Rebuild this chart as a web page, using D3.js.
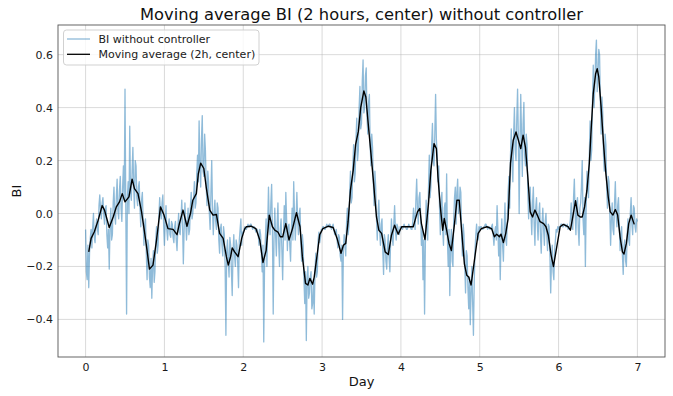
<!DOCTYPE html>
<html>
<head>
<meta charset="utf-8">
<title>Moving average BI (2 hours, center) without controller</title>
<script src="https://d3js.org/d3.v7.min.js"></script>
<style>
  body{ margin:0; background:#fff; font-family:'DejaVu Sans', sans-serif; }
</style>
</head>
<body>
<svg></svg>
<script>
// raw BI, one sample every rawStep days starting at day 0 (one row = 0.1 day)
var rawStep = 0.01;
var rawBI = [
  // day 0
  -0.06,-0.22,-0.25,-0.12,-0.28,-0.15,-0.09,-0.06,-0.13,-0.05,
   0.00,-0.09,-0.11,-0.05,-0.02,-0.06,-0.08, 0.03, 0.07, 0.01,
  -0.02, 0.04, 0.06, 0.00,-0.04, 0.02, 0.03,-0.08,-0.13,-0.06,
  -0.21,-0.05, 0.02,-0.10,-0.08, 0.04, 0.10,-0.01,-0.04, 0.06,
   0.13, 0.01,-0.02, 0.09, 0.14, 0.02,-0.03, 0.10, 0.18, 0.05,
   0.47, 0.02,-0.38, 0.06, 0.12, 0.00, 0.33, 0.08, 0.05, 0.16,
   0.25, 0.10, 0.02, 0.20, 0.18, 0.06, 0.03, 0.10, 0.12, 0.02,
  -0.05, 0.05, 0.08,-0.03,-0.12,-0.04,-0.02,-0.15,-0.25,-0.10,
  -0.12,-0.24,-0.28,-0.17,-0.32,-0.20,-0.14,-0.26,-0.22,-0.10,
  -0.05,-0.15,-0.12,-0.01, 0.06, 0.00,-0.02, 0.04, 0.07,-0.04,
  // day 1
  -0.12,-0.04, 0.03,-0.06,-0.10,-0.05,-0.02,-0.08,-0.09,-0.03,
  -0.04,-0.09,-0.11,-0.05,-0.03,-0.10,-0.14,-0.06, 0.00,-0.07,
  -0.08,-0.02, 0.05,-0.04,-0.19,-0.06, 0.04,-0.03,-0.10,-0.04,
   0.02,-0.08,-0.06, 0.03, 0.08,-0.02, 0.00, 0.06, 0.12, 0.02,
   0.04, 0.15, 0.22, 0.12, 0.35, 0.18, 0.10, 0.28, 0.37, 0.16,
   0.14, 0.30, 0.24, 0.10, 0.03, 0.16, 0.12, 0.00,-0.06, 0.08,
   0.20, 0.02,-0.08, 0.00, 0.05,-0.03,-0.06, 0.04, 0.02,-0.10,
  -0.15,-0.06,-0.04,-0.12,-0.16,-0.05,-0.08,-0.20,-0.46,-0.14,
  -0.10,-0.18,-0.24,-0.09,-0.12,-0.22,-0.31,-0.15,-0.08,-0.16,
  -0.20,-0.10,-0.12,-0.19,-0.28,-0.10,-0.06,-0.02,-0.12,-0.07,
  // day 2
  -0.07,-0.06,-0.05,-0.06,-0.06,-0.05,-0.04,-0.05,-0.05,-0.04,
  -0.04,-0.05,-0.06,-0.05,-0.05,-0.06,-0.07,-0.06,-0.06,-0.08,
  -0.12,-0.06,-0.08,-0.15,-0.22,-0.12,-0.485,-0.20,-0.10,-0.02,
  -0.20,-0.05, 0.10,-0.03,-0.08, 0.04, 0.11,-0.06,-0.38,-0.10,
   0.02,-0.08,-0.16,-0.04, 0.04,-0.12,-0.20,-0.06,-0.02,-0.14,
  -0.25,-0.08, 0.03,-0.10, 0.08,-0.02,-0.14,-0.05,-0.04,-0.12,
  -0.18,-0.06, 0.02,-0.10, 0.12, 0.00,-0.10,-0.03, 0.08,-0.02,
  -0.08, 0.00, 0.02,-0.10,-0.18,-0.08,-0.12,-0.25,-0.34,-0.22,
  -0.48,-0.25,-0.20,-0.32,-0.30,-0.24,-0.22,-0.36,-0.34,-0.25,
  -0.38,-0.22,-0.15,-0.24,-0.22,-0.10,-0.07,-0.11,-0.09,-0.06,
  // day 3
  -0.06,-0.05,-0.05,-0.06,-0.06,-0.05,-0.04,-0.05,-0.05,-0.04,
  -0.04,-0.05,-0.06,-0.05,-0.04,-0.06,-0.08,-0.07,-0.06,-0.10,
  -0.13,-0.08,-0.09,-0.16,-0.18,-0.12,-0.40,-0.14,-0.08,-0.12,
  -0.16,-0.04, 0.02,-0.08,-0.05, 0.08, 0.16, 0.04, 0.06, 0.18,
   0.26, 0.12, 0.15, 0.28, 0.36, 0.20, 0.24, 0.40, 0.48, 0.32,
   0.34, 0.50, 0.58, 0.38, 0.40, 0.52, 0.55, 0.36, 0.30, 0.42,
   0.45, 0.26, 0.18, 0.30, 0.25, 0.12, 0.03, 0.16, 0.10,-0.02,
  -0.10, 0.00, 0.05,-0.06,-0.12,-0.04,-0.02,-0.14,-0.23,-0.08,
  -0.10,-0.18,-0.21,-0.12,-0.08,-0.17,-0.22,-0.10,-0.02,-0.09,
  -0.12,-0.04, 0.03,-0.06,-0.10,-0.04,-0.05,-0.07,-0.08,-0.05,
  // day 4
  -0.05,-0.05,-0.06,-0.05,-0.04,-0.05,-0.05,-0.06,-0.06,-0.05,
  -0.04,-0.05,-0.05,-0.06,-0.06,-0.03, 0.02,-0.02,-0.06, 0.05,
   0.13, 0.02,-0.04, 0.06, 0.08, 0.00,-0.12,-0.05,-0.25,-0.10,
  -0.38,-0.12, 0.05,-0.04,-0.10, 0.10, 0.22, 0.06, 0.10, 0.26,
   0.34, 0.20, 0.18, 0.30, 0.45, 0.28, 0.22, 0.12, 0.18, 0.02,
  -0.08, 0.04, 0.08,-0.06,-0.12, 0.02, 0.04,-0.08, 0.15,-0.10,
  -0.20,-0.06,-0.31,-0.12,-0.06,-0.18,-0.20,-0.02, 0.06, 0.10,
  -0.04, 0.08, 0.13, 0.00, 0.02, 0.10, 0.08,-0.08,-0.16,-0.04,
  -0.08,-0.20,-0.30,-0.14,-0.16,-0.28,-0.36,-0.24,-0.42,-0.30,
  -0.20,-0.34,-0.46,-0.26,-0.14,-0.08,-0.04,-0.09,-0.10,-0.05,
  // day 5
  -0.06,-0.05,-0.05,-0.06,-0.06,-0.05,-0.05,-0.04,-0.04,-0.05,
  -0.06,-0.05,-0.05,-0.06,-0.06,-0.05,-0.04,-0.08,-0.12,-0.07,
  -0.05,-0.10, 0.03,-0.06,-0.16,-0.08,-0.25,-0.10,-0.02,-0.12,
  -0.18,-0.06, 0.04,-0.10,-0.12,-0.02, 0.08, 0.14, 0.02, 0.22,
   0.32, 0.18, 0.12, 0.30, 0.40, 0.24, 0.20, 0.36, 0.47, 0.28,
   0.00, 0.26, 0.45, 0.30, 0.14, 0.34, 0.42, 0.22, 0.18, 0.30,
   0.26, 0.08,-0.02, 0.06, 0.10, 0.00,-0.08, 0.04, 0.10,-0.04,
  -0.12, 0.02, 0.06,-0.04,-0.10, 0.00, 0.04,-0.08,-0.15,-0.04,
   0.02,-0.06,-0.12,-0.03, 0.00,-0.08,-0.14,-0.04,-0.05,-0.16,
  -0.30,-0.18,-0.12,-0.22,-0.25,-0.14,-0.10,-0.06,-0.07,-0.05,
  // day 6
  -0.06,-0.05,-0.05,-0.04,-0.04,-0.05,-0.05,-0.04,-0.04,-0.05,
  -0.05,-0.04,-0.06,-0.05,-0.05,-0.02, 0.04,-0.04,-0.06, 0.06,
   0.13, 0.00,-0.08, 0.04, 0.06,-0.06,-0.12, 0.02, 0.04, 0.10,
   0.20,-0.02,-0.08, 0.06,-0.20, 0.02, 0.16, 0.10, 0.06, 0.22,
   0.35, 0.20, 0.24, 0.42, 0.56, 0.40, 0.48, 0.60, 0.655,0.46,
   0.52, 0.62, 0.60, 0.42, 0.30, 0.44, 0.38, 0.22, 0.16, 0.30,
   0.26, 0.10, 0.02, 0.14, 0.12, 0.00,-0.12,-0.02, 0.04,-0.06,
  -0.08, 0.04, 0.12, 0.00,-0.05, 0.03, 0.06,-0.04,-0.14,-0.08,
  -0.05,-0.16,-0.23,-0.12,-0.10,-0.18,-0.20,-0.08,-0.02,-0.10,
  -0.12, 0.00, 0.06,-0.04,-0.08, 0.03, 0.02,-0.05,-0.07,-0.02,
  // day 7
  -0.03
];

// centred 2h moving average
var maDay = [
  0.04,0.07,0.11,0.16,0.21,0.24,0.30,0.35,0.39,0.43,0.465,0.50,0.55,0.59,0.62,0.665,0.71,0.75,0.78,0.81,0.855,0.90,0.95,
  0.995,1.045,1.11,1.16,1.19,1.236,1.286,1.33,1.36,1.405,1.43,1.46,1.50,1.53,1.575,1.617,1.66,1.70,1.745,1.786,1.81,1.84,1.86,1.89,1.935,1.98,
  2.02,2.04,2.10,2.16,2.21,2.25,2.29,2.33,2.37,2.40,2.44,2.47,2.50,2.54,2.58,2.625,2.675,2.72,2.75,2.79,2.82,2.845,2.88,2.90,2.94,2.97,
  3.01,3.08,3.14,3.19,3.24,3.27,3.30,3.33,3.36,3.395,3.425,3.46,3.49,3.53,3.555,3.585,3.62,3.65,3.69,3.72,3.755,3.80,3.84,3.88,3.92,3.965,
  4.01,4.07,4.156,4.18,4.21,4.24,4.26,4.305,4.35,4.38,4.42,4.45,4.47,4.50,4.53,4.55,4.58,4.61,4.64,4.68,4.71,4.74,4.77,4.805,4.835,4.86,4.89,4.91,4.95,4.98,
  5.02,5.09,5.15,5.186,5.215,5.25,5.27,5.30,5.33,5.36,5.39,5.425,5.46,5.49,5.52,5.55,5.58,5.61,5.64,5.67,5.70,5.73,5.765,5.81,5.84,5.87,5.905,5.935,5.97,
  6.02,6.06,6.12,6.15,6.18,6.215,6.245,6.275,6.30,6.33,6.36,6.39,6.415,6.44,6.47,6.49,6.51,6.54,6.57,6.60,6.63,6.655,6.69,6.72,6.75,6.78,6.81,6.83,6.86,6.89,6.92,6.96
];
var maBI = [
  -0.145,-0.094,-0.07,-0.025,0.03,0.013,-0.053,-0.013,0.025,0.044,0.075,0.044,0.063,0.13,0.094,0.075,0.006,-0.075,-0.14,-0.21,-0.195,-0.10,0.025,
  -0.006,-0.057,-0.06,-0.08,-0.038,0.013,-0.048,0.0,0.05,0.075,0.15,0.19,0.17,0.10,0.013,-0.006,-0.004,-0.075,-0.094,-0.163,-0.195,-0.163,-0.13,-0.145,-0.163,-0.094,
  -0.057,-0.05,-0.048,-0.057,-0.10,-0.185,-0.14,-0.006,-0.05,-0.063,-0.07,-0.088,-0.088,-0.038,-0.10,-0.057,0.003,-0.05,-0.163,-0.264,-0.27,-0.245,-0.267,-0.24,-0.15,-0.08,
  -0.057,-0.048,-0.053,-0.094,-0.15,-0.12,-0.113,-0.03,0.088,0.164,0.26,0.31,0.40,0.463,0.44,0.34,0.226,0.126,-0.013,-0.063,-0.075,-0.145,-0.155,-0.082,-0.044,-0.078,
  -0.05,-0.05,-0.05,-0.025,0.006,0.019,-0.038,-0.098,0.038,0.164,0.264,0.245,0.138,0.025,-0.063,-0.019,-0.063,-0.113,-0.14,-0.038,0.05,0.05,-0.063,-0.19,-0.233,-0.24,-0.27,-0.226,-0.138,-0.075,
  -0.057,-0.05,-0.057,-0.088,-0.078,-0.088,-0.078,-0.11,-0.075,-0.019,0.19,0.277,0.308,0.277,0.245,0.296,0.25,0.138,0.006,-0.013,0.013,-0.006,-0.031,-0.038,-0.05,-0.082,-0.157,-0.20,-0.138,
  -0.05,-0.041,-0.05,-0.063,-0.013,0.048,-0.006,-0.013,-0.013,0.025,0.088,0.19,0.327,0.453,0.528,0.547,0.516,0.40,0.264,0.15,0.063,0.006,-0.006,0.015,-0.006,-0.088,-0.145,-0.153,-0.113,-0.038,-0.006,-0.041
];

var xTicks = [0, 1, 2, 3, 4, 5, 6, 7];
var yTicks = [-0.4, -0.2, 0.0, 0.2, 0.4, 0.6];
var titleText = "Moving average BI (2 hours, center) without controller";
var xLabel = "Day", yLabel = "BI";
var seriesNames = ["BI without controller", "Moving average (2h, center)"];

//begin: layout conf.
var svgWidth = 673, svgHeight = 396,
    plot = {left: 58, right: 665, top: 25, bottom: 357};
var rawColor = "#1f77b4", maColor = "#000";
//end: layout conf.

var raw = rawBI.map(function(v, i){ return {day: i*rawStep, bi: v}; });
var ma = maDay.map(function(d, i){ return {day: d, bi: maBI[i]}; });

// matplotlib style 5% padding around the data
function padded(ext){ var p = (ext[1]-ext[0])*0.05; return [ext[0]-p, ext[1]+p]; }
var x = d3.scaleLinear()
  .domain(padded(d3.extent(raw, function(d){ return d.day; })))
  .range([plot.left, plot.right]);
var y = d3.scaleLinear()
  .domain(padded(d3.extent(raw, function(d){ return d.bi; })))
  .range([plot.bottom, plot.top]);

var svg = d3.select("svg").attr("width", svgWidth).attr("height", svgHeight);

svg.append("defs").append("clipPath").attr("id", "clip")
  .append("rect")
    .attr("x", plot.left).attr("y", plot.top)
    .attr("width", plot.right-plot.left).attr("height", plot.bottom-plot.top);

// grid
var grid = svg.append("g").attr("class", "grid")
  .attr("stroke", "#b0b0b0").attr("stroke-opacity", 0.6).attr("stroke-width", 0.8);
grid.selectAll(".gx").data(xTicks).enter().append("line")
  .attr("x1", function(d){ return x(d); }).attr("x2", function(d){ return x(d); })
  .attr("y1", plot.top).attr("y2", plot.bottom);
grid.selectAll(".gy").data(yTicks).enter().append("line")
  .attr("y1", function(d){ return y(d); }).attr("y2", function(d){ return y(d); })
  .attr("x1", plot.left).attr("x2", plot.right);

var line = d3.line()
  .x(function(d){ return x(d.day); })
  .y(function(d){ return y(d.bi); });

var lines = svg.append("g").attr("clip-path", "url(#clip)");
lines.append("path").datum(raw)
  .attr("d", line)
  .attr("fill", "none")
  .attr("stroke", rawColor).attr("stroke-opacity", 0.5)
  .attr("stroke-width", 1.3).attr("stroke-linejoin", "round");
lines.append("path").datum(ma)
  .attr("d", line)
  .attr("fill", "none")
  .attr("stroke", maColor)
  .attr("stroke-width", 1.4).attr("stroke-linejoin", "round");

// axes (tick marks hidden, labels only)
var xAxis = svg.append("g")
  .attr("transform", "translate(0," + plot.bottom + ")")
  .call(d3.axisBottom(x).tickValues(xTicks).tickSize(0).tickPadding(6).tickFormat(d3.format("d")));
var yAxis = svg.append("g")
  .attr("transform", "translate(" + plot.left + ",0)")
  .call(d3.axisLeft(y).tickValues(yTicks).tickSize(0).tickPadding(5).tickFormat(d3.format(".1f")));
[xAxis, yAxis].forEach(function(a){
  a.select(".domain").remove();
  a.selectAll("line").remove();
  a.selectAll("text").attr("fill", "#1a1a1a")
    .style("font-family", "'DejaVu Sans', sans-serif").style("font-size", "11px");
});

svg.append("rect")
  .attr("x", plot.left).attr("y", plot.top)
  .attr("width", plot.right-plot.left).attr("height", plot.bottom-plot.top)
  .attr("fill", "none").attr("stroke", "#555").attr("stroke-width", 0.9);

// titles
svg.append("text")
  .attr("x", (plot.left+plot.right)/2).attr("y", 19.5)
  .attr("text-anchor", "middle")
  .style("font-size", "16.3px").attr("fill", "#111")
  .text(titleText);
svg.append("text")
  .attr("x", (plot.left+plot.right)/2).attr("y", 385.5)
  .attr("text-anchor", "middle")
  .style("font-size", "13px").attr("fill", "#111")
  .text(xLabel);
svg.append("text")
  .attr("transform", "translate(20.5," + ((plot.top+plot.bottom)/2) + ") rotate(-90)")
  .attr("text-anchor", "middle")
  .style("font-size", "13px").attr("fill", "#111")
  .text(yLabel);

// legend
var legend = svg.append("g").attr("transform", "translate(63.5,30)");
legend.append("rect")
  .attr("width", 195.5).attr("height", 35).attr("rx", 3)
  .attr("fill", "#fff").attr("fill-opacity", 0.8)
  .attr("stroke", "#ccc").attr("stroke-width", 0.9);
var items = legend.selectAll(".item").data(seriesNames).enter().append("g")
  .attr("transform", function(d, i){ return "translate(0," + (9 + i*15.3) + ")"; });
items.append("line")
  .attr("x1", 3.5).attr("x2", 26.5)
  .attr("stroke", function(d, i){ return i ? maColor : rawColor; })
  .attr("stroke-opacity", function(d, i){ return i ? 1 : 0.5; })
  .attr("stroke-width", 1.3);
items.append("text")
  .attr("x", 35).attr("dy", "0.35em")
  .style("font-size", "11px").attr("fill", "#1a1a1a")
  .text(function(d){ return d; });
</script>
</body>
</html>
